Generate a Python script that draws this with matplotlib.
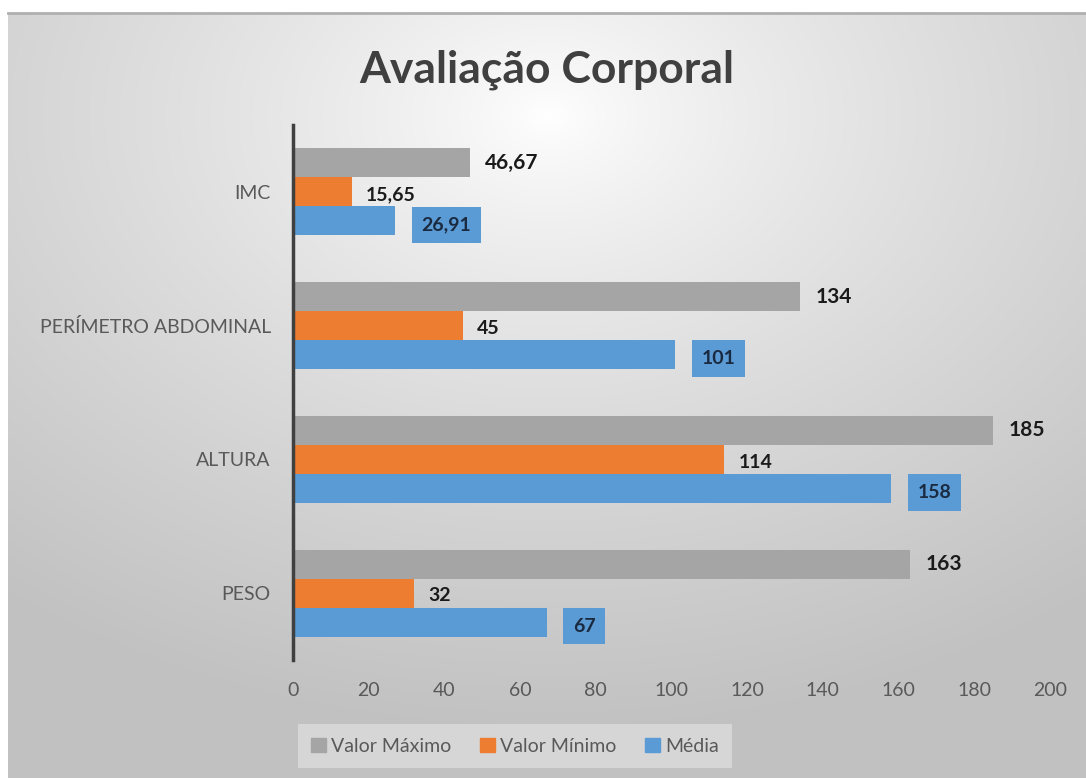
import matplotlib.pyplot as plt
import numpy as np
from matplotlib.patches import Patch

# data
categories = ["PESO", "ALTURA", "PERÍMETRO ABDOMINAL", "IMC"]
valor_maximo = [163, 185, 134, 46.67]
valor_minimo = [32, 114, 45, 15.65]
media = [67, 158, 101, 26.91]
x_ticks = [0, 20, 40, 60, 80, 100, 120, 140, 160, 180, 200]

c_max = "#a5a5a5"
c_min = "#ed7d31"
c_med = "#5b9bd5"


def fmt(v):
    # decimal comma, like the original
    if float(v).is_integer():
        return str(int(v))
    return ("%.2f" % v).replace(".", ",")


plt.rcParams['font.family'] = ['Lato', 'DejaVu Sans']

fig = plt.figure(figsize=(10.86, 7.78), dpi=100)
fig.patch.set_facecolor("white")

# background with radial gradient
bg = fig.add_axes([8 / 1086, 0, 1 - 8 / 1086, 1 - 13 / 778])
yy, xx = np.mgrid[0:300, 0:420]
cx, cy = 210, 40
r = np.sqrt(((xx - cx) / 420) ** 2 + ((yy - cy) / 300) ** 2)
r = r / r.max()
shade = 1.0 - 0.24 * np.clip(r * 1.25, 0, 1) ** 0.8
bg.imshow(np.dstack([shade] * 3), aspect="auto", extent=[0, 1, 0, 1])
bg.set_xlim(0, 1)
bg.set_ylim(0, 1)
for s in ["left", "bottom", "right"]:
    bg.spines[s].set_visible(False)
bg.spines["top"].set_color("#b0b0b0")
bg.spines["top"].set_linewidth(2)
bg.set_xticks([])
bg.set_yticks([])

ax = fig.add_axes([293 / 1086, 1 - 660 / 778, (1050 - 293) / 1086, 535 / 778])
ax.patch.set_alpha(0)

y = np.arange(len(categories))
h = 0.217
ax.barh(y + h, valor_maximo, height=h, color=c_max, label="Valor Máximo")
ax.barh(y, valor_minimo, height=h, color=c_min, label="Valor Mínimo")
ax.barh(y - h, media, height=h, color=c_med, label="Média")

for i in range(len(categories)):
    ax.annotate(fmt(valor_maximo[i]), (valor_maximo[i], y[i] + h),
                xytext=(11, 0), textcoords="offset points",
                va="center", ha="left", fontsize=15, fontweight="bold",
                color="#1a1a1a")
    ax.annotate(fmt(valor_minimo[i]), (valor_minimo[i], y[i] - 0.02),
                xytext=(10, 0), textcoords="offset points",
                va="center", ha="left", fontsize=14, fontweight="bold",
                color="#1a1a1a")
    ax.annotate(fmt(media[i]), (media[i], y[i] - h - 0.03),
                xytext=(19, 0), textcoords="offset points",
                va="center", ha="left", fontsize=14, fontweight="bold",
                color="#1a2a40",
                bbox=dict(boxstyle="square,pad=0.5", fc=c_med, ec="none"))

ax.set_xlim(0, 200)
ax.set_ylim(-0.5, len(categories) - 0.5)
ax.set_xticks(x_ticks)
ax.set_xticklabels([str(t) for t in x_ticks])
ax.set_yticks(y)
ax.set_yticklabels(categories)
ax.tick_params(axis="both", length=0, labelsize=14, colors="#595959")
ax.tick_params(axis="x", pad=16)
ax.tick_params(axis="y", pad=16)
for s in ["top", "right", "bottom"]:
    ax.spines[s].set_visible(False)
ax.spines["left"].set_color("#404040")
ax.spines["left"].set_linewidth(2.5)

fig.text(0.5 + 4 / 1086, 1 - 70 / 778, "Avaliação Corporal", ha="center",
         va="center", fontsize=32, fontweight="bold", color="#404040")

handles = [Patch(color=c_max, label="Valor Máximo"),
           Patch(color=c_min, label="Valor Mínimo"),
           Patch(color=c_med, label="Média")]
leg = fig.legend(handles=handles, loc="center", bbox_to_anchor=(515 / 1086, 1 - 746 / 778),
                 ncol=3, frameon=True, fontsize=14, handlelength=0.75,
                 handleheight=0.75, handletextpad=0.25, columnspacing=1.5,
                 borderpad=0.7)
leg.get_frame().set_facecolor("#dcdcdc")
leg.get_frame().set_edgecolor("none")
leg.get_frame().set_boxstyle("square", pad=0.0)
for t in leg.get_texts():
    t.set_color("#595959")

fig.savefig("out.png", dpi=100)
